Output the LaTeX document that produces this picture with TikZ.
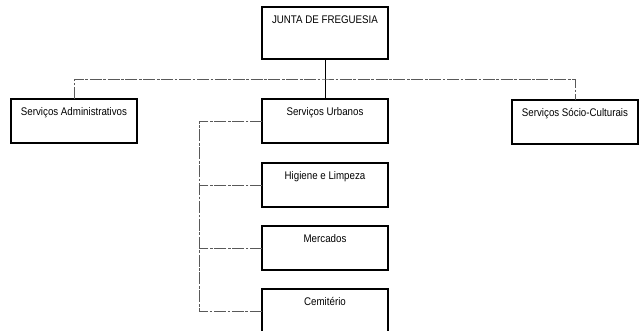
\documentclass[tikz,border=0pt]{standalone}
\usepackage{fontspec}
\setmainfont[FakeStretch=0.88]{Liberation Sans}
\begin{document}
\begin{tikzpicture}[x=0.75pt,y=-0.75pt,inner xsep=0pt,outer sep=0pt,
orgbox/.style={draw,rectangle,line width=1.1pt,anchor=north,minimum width=94.5pt,
  inner ysep=6.2pt,text height=6pt,text depth=14.6pt,font=\fontsize{8.3}{10}\selectfont},
link/.style={draw=black!65,line width=0.45pt,dash pattern=on 9pt off 1.2pt on 2pt off 1.2pt}]
\useasboundingbox (0,0) rectangle (640,331);
\node[orgbox,text depth=20.6pt] (junta) at (325,7) {JUNTA DE FREGUESIA};
\node[orgbox] (admin) at (74,99) {Serviços Administrativos};
\node[orgbox] (urb) at (325,99) {Serviços Urbanos};
\node[orgbox] (socio) at (575,100) {Serviços Sócio-Culturais};
\node[orgbox] (hig) at (325,163) {Higiene e Limpeza};
\node[orgbox] (merc) at (325,226) {Mercados};
\node[orgbox] (cem) at (325,289) {Cemitério};
% ligacoes
\draw[line width=0.6pt] (junta.south) -- (urb.north);
\coordinate (bus) at (325,79);
\draw[link] (admin.north) |- (bus) -| (socio.north);
\draw[link] (urb.west) -- ++(-63,0) |- (cem.west);
\draw[link] (hig.west) -- ++(-63,0);
\draw[link] (merc.west) -- ++(-63,0);
\end{tikzpicture}
\end{document}
